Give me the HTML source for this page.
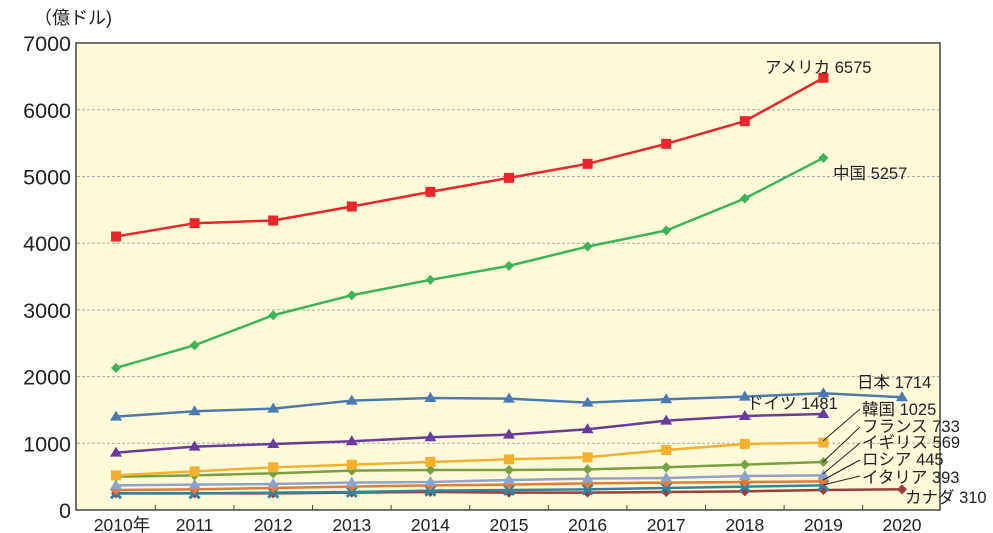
<!DOCTYPE html>
<html><head><meta charset="utf-8"><style>
html,body{margin:0;padding:0;background:#fff;}
svg{display:block;font-family:"Liberation Sans","Noto Sans CJK JP",sans-serif;}
</style></head><body>
<svg id="c" width="993" height="533" viewBox="0 0 993 533" xmlns="http://www.w3.org/2000/svg">
<rect x="76" y="43" width="864" height="467" fill="#fffbd9" stroke="#444" stroke-width="1.5"/>
<g id="grid" stroke="#aaa" stroke-dasharray="3,2" stroke-width="1"></g>
<g id="ylab" font-size="21.5" fill="#222" text-anchor="end"></g>
<g id="xlab" font-size="17.5" fill="#222" text-anchor="middle"></g>
<text x="34" y="24" font-size="18" fill="#222">（億ドル)</text>
<g id="series"></g>
<g font-size="16.5" fill="#222">
<text x="765" y="73">アメリカ 6575</text>
<text x="833" y="179">中国 5257</text>
<text x="857" y="388">日本 1714</text>
<text x="747" y="409">ドイツ 1481</text>
<text x="862" y="415">韓国 1025</text>
<text x="862" y="432">フランス 733</text>
<text x="862" y="448">イギリス 569</text>
<text x="862" y="465">ロシア 445</text>
<text x="862" y="483">イタリア 393</text>
<text x="905" y="503">カナダ 310</text>
</g>
<g stroke="#222" stroke-width="1">
<line x1="823" y1="441" x2="860" y2="409"/>
<line x1="823" y1="462" x2="860" y2="427"/>
<line x1="823" y1="474" x2="860" y2="443"/>
<line x1="823" y1="480" x2="860" y2="460"/>
<line x1="823" y1="485" x2="860" y2="476"/>
</g>
</svg>
<script>
var ns="http://www.w3.org/2000/svg";
function el(t,a,p){var e=document.createElementNS(ns,t);for(var k in a)e.setAttribute(k,a[k]);if(p)p.appendChild(e);return e;}
function X(i){return 116+78.6*i;}
function Y(v){return 510-v*0.0667;}
var g=document.getElementById('grid'),yl=document.getElementById('ylab'),xl=document.getElementById('xlab');
for(var v=0;v<=7000;v+=1000){if(v>0&&v<7000)el('line',{x1:77,x2:939,y1:Y(v),y2:Y(v)},g);var t=el('text',{x:71,y:Y(v)+8},yl);t.textContent=v;}
for(var i=0;i<=10;i++){var t=el('text',{x:X(i)+(i==0?6:0),y:531},xl);t.textContent=(2010+i)+(i==0?'年':'');
 if(i<10)el('line',{x1:X(i)+39.3,x2:X(i)+39.3,y1:510,y2:505,stroke:'#444'},document.getElementById('c'));}
var S=[
['#9e3b3b',[250,250,250,260,270,260,260,270,280,300,310],'d'],
['#31849b',[250,250,260,270,290,300,310,330,350,370],'x'],
['#e07b39',[300,310,330,350,370,380,400,410,420,430],'d'],
['#8ea3cc',[370,380,390,410,420,450,470,480,510,520],'t'],
['#77a13f',[500,520,550,590,600,600,610,640,680,720],'d'],
['#f5b02e',[520,580,640,680,720,760,790,900,990,1010],'s'],
['#6a3b9c',[860,950,990,1030,1090,1130,1210,1340,1410,1440],'t'],
['#4a7ab0',[1400,1480,1520,1640,1680,1670,1610,1660,1700,1750,1690],'t'],
['#3db35a',[2130,2470,2920,3220,3450,3660,3950,4190,4670,5280],'d'],
['#e8262b',[4100,4300,4340,4550,4770,4980,5190,5490,5830,6480],'s']];
var sg=document.getElementById('series');
S.forEach(function(s){var c=s[0],d=s[1],pts=d.map(function(v,i){return X(i)+','+Y(v)}).join(' ');
 el('polyline',{points:pts,fill:'none',stroke:c,'stroke-width':2.5},sg);
 d.forEach(function(v,i){var x=X(i),y=Y(v);
  if(s[2]=='s')el('rect',{x:x-5,y:y-5,width:10,height:10,fill:c},sg);
  else if(s[2]=='t')el('polygon',{points:(x)+','+(y-6)+' '+(x-6)+','+(y+4)+' '+(x+6)+','+(y+4),fill:c},sg);
  else if(s[2]=='d')el('polygon',{points:x+','+(y-5)+' '+(x+5)+','+y+' '+x+','+(y+5)+' '+(x-5)+','+y,fill:c},sg);
  else{el('path',{d:'M'+(x-5)+' '+(y-5)+'L'+(x+5)+' '+(y+5)+'M'+(x+5)+' '+(y-5)+'L'+(x-5)+' '+(y+5),stroke:c,'stroke-width':3},sg);}
 });
});
</script>
</body></html>
